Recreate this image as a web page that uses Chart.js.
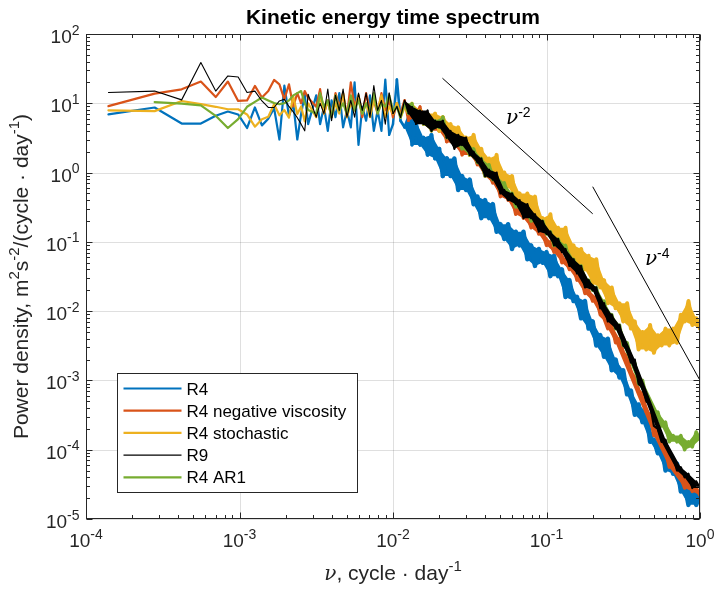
<!DOCTYPE html>
<html>
<head>
<meta charset="utf-8">
<script src="https://cdn.jsdelivr.net/npm/chart.js@4/dist/chart.umd.min.js"></script>
<style>
  html, body { margin: 0; padding: 0; background: #fff; }
</style>
</head>
<body>
<canvas id="spectrum" width="716" height="593"></canvas>
<script>
// frequency, cycle/day (first 20 are the raw spectral bins, then every ~1/40 decade)
const freq = [
  1.4e-4, 2.8e-4, 4.2e-4, 5.6e-4, 7.0e-4, 8.4e-4, 9.8e-4, 1.12e-3, 1.26e-3, 1.4e-3,
  1.54e-3, 1.68e-3, 1.82e-3, 1.96e-3, 2.1e-3, 2.24e-3, 2.38e-3, 2.52e-3, 2.66e-3, 2.8e-3,
  3.16e-3, 3.35e-3, 3.55e-3, 3.76e-3, 3.98e-3, 4.22e-3, 4.47e-3, 4.73e-3, 5.01e-3, 5.31e-3,
  5.62e-3, 5.96e-3, 6.31e-3, 6.68e-3, 7.08e-3, 7.50e-3, 7.94e-3, 8.41e-3, 8.91e-3, 9.44e-3,
  0.0100, 0.0106, 0.0112, 0.0119, 0.0126, 0.0133, 0.0141, 0.0150, 0.0158, 0.0168,
  0.0178, 0.0188, 0.0200, 0.0211, 0.0224, 0.0237, 0.0251, 0.0266, 0.0282, 0.0299,
  0.0316, 0.0335, 0.0355, 0.0376, 0.0398, 0.0422, 0.0447, 0.0473, 0.0501, 0.0531,
  0.0562, 0.0596, 0.0631, 0.0668, 0.0708, 0.0750, 0.0794, 0.0841, 0.0891, 0.0944,
  0.100, 0.106, 0.112, 0.119, 0.126, 0.133, 0.141, 0.150, 0.158, 0.168,
  0.178, 0.188, 0.200, 0.211, 0.224, 0.237, 0.251, 0.266, 0.282, 0.299,
  0.316, 0.335, 0.355, 0.376, 0.398, 0.422, 0.447, 0.473, 0.501, 0.531,
  0.562, 0.596, 0.631, 0.668, 0.708, 0.750, 0.794, 0.841, 0.891, 0.944,
  1.0
];

// power density, m^2 s^-2 / (cycle/day)
const r4 = [
  6.9, 8.7, 5.1, 5.1, 6.6, 7.6, 6.9, 4.4, 8.7, 4.8,
  6.0, 8.5, 3.0, 18, 6.6, 10, 3.0, 7.0, 13.5, 5.0,
  13, 5.0, 8.9, 4.0, 11, 6.3, 14, 4.5, 7.9, 4.5,
  20, 2.5, 8.9, 5.6, 13, 4.0, 7.9, 4.0, 22, 3.5,
  5.0, 22, 5.6, 4.5, 6.3, 2.5, 5.6, 2.5, 3.2, 1.8,
  3.5, 1.6, 2.2, 0.89, 1.6, 0.89, 1.6, 0.56, 0.89, 0.56,
  0.79, 0.35, 0.45, 0.22, 0.40, 0.22, 0.35, 0.14, 0.18, 0.11,
  0.18, 0.079, 0.14, 0.089, 0.14, 0.056, 0.089, 0.045, 0.079, 0.050,
  0.071, 0.032, 0.063, 0.032, 0.040, 0.016, 0.028, 0.014, 0.016, 0.0079,
  0.014, 0.0056, 0.0071, 0.0032, 0.0045, 0.0022, 0.0040, 0.0014, 0.0020, 0.0011,
  0.0014, 6.3e-4, 7.1e-4, 3.2e-4, 4.5e-4, 2.5e-4, 3.5e-4, 1.3e-4, 1.4e-4, 8.9e-5,
  1.3e-4, 5.0e-5, 7.9e-5, 4.5e-5, 6.3e-5, 2.5e-5, 3.2e-5, 1.6e-5, 2.8e-5, 1.6e-5,
  2.2e-5
];
const r4NegVisc = [
  9.1, 13.8, 15.9, 20.6, 12.3, 20.6, 10.8, 11.0, 17.8, 12.1,
  15, 21.7, 18.8, 11.4, 18.8, 9.0, 14, 10, 15, 12,
  8.9, 16, 7.1, 11, 6.3, 14, 8.9, 14, 6.3, 20,
  8.9, 13, 6.3, 14, 7.9, 11, 7.1, 14, 7.9, 11,
  6.3, 10, 7.1, 11, 5.6, 7.9, 6.3, 8.9, 5.0, 6.3,
  4.0, 5.6, 4.0, 5.6, 2.8, 3.2, 2.5, 3.5, 1.8, 2.5,
  1.8, 2.0, 1.3, 1.4, 0.89, 1.0, 0.71, 0.79, 0.45, 0.63,
  0.40, 0.45, 0.25, 0.32, 0.22, 0.25, 0.16, 0.20, 0.13, 0.14,
  0.089, 0.10, 0.071, 0.089, 0.050, 0.056, 0.040, 0.045, 0.028, 0.032,
  0.018, 0.020, 0.014, 0.016, 0.0089, 0.0079, 0.0056, 0.0063, 0.0035, 0.0040,
  0.0025, 0.0022, 0.0013, 0.0011, 7.1e-4, 6.3e-4, 3.5e-4, 3.2e-4, 1.6e-4, 1.8e-4,
  1.1e-4, 1.0e-4, 5.6e-5, 7.1e-5, 4.5e-5, 4.0e-5, 2.8e-5, 3.5e-5, 2.5e-5, 2.8e-5,
  2.2e-5
];
const r4Stochastic = [
  7.9, 7.7, 10.8, 9.7, 8.9, 8.2, 8.2, 6.9, 4.6, 5.9,
  6.4, 9.7, 6.7, 8.0, 6.2, 12.5, 7.0, 9.0, 5.5, 10,
  6.3, 13, 7.1, 11, 6.3, 10, 7.1, 14, 6.3, 10,
  7.9, 13, 7.1, 10, 6.3, 11, 7.9, 13, 6.3, 8.9,
  7.1, 10, 6.3, 8.9, 7.1, 10, 5.6, 7.9, 5.0, 7.1,
  5.6, 7.1, 4.0, 6.3, 4.5, 5.0, 2.8, 4.5, 2.5, 3.2,
  1.8, 3.5, 1.6, 2.2, 1.0, 1.6, 0.89, 1.8, 0.56, 1.0,
  0.63, 0.89, 0.40, 0.50, 0.25, 0.50, 0.28, 0.45, 0.18, 0.22,
  0.14, 0.25, 0.089, 0.16, 0.10, 0.16, 0.056, 0.089, 0.045, 0.079,
  0.040, 0.063, 0.025, 0.056, 0.022, 0.028, 0.013, 0.022, 0.011, 0.013,
  0.0071, 0.013, 0.0056, 0.0071, 0.0028, 0.0050, 0.0028, 0.0063, 0.0025, 0.0045,
  0.0032, 0.0056, 0.0032, 0.0056, 0.0035, 0.0089, 0.0071, 0.014, 0.0063, 0.0079,
  0.0056
];
const r9 = [
  14.3, 15.0, 11.2, 38.7, 15.0, 24.8, 24.0, 14.3, 15.0, 10.8,
  8.7, 8.7, 10.8, 11.4, 9.0, 7.5, 6.2, 5.0, 4.0, 13.5,
  6.3, 10, 7.1, 16, 5.6, 13, 7.9, 16, 6.3, 11,
  6.3, 14, 7.9, 14, 6.3, 18, 7.9, 11, 5.0, 14,
  7.1, 8.9, 6.3, 11, 7.1, 8.9, 5.0, 7.9, 5.0, 7.9,
  4.0, 5.6, 4.5, 5.6, 3.2, 4.0, 2.2, 3.5, 2.5, 3.2,
  1.8, 2.0, 1.4, 1.6, 0.89, 1.1, 0.79, 1.0, 0.50, 0.56,
  0.40, 0.50, 0.35, 0.40, 0.22, 0.35, 0.22, 0.25, 0.14, 0.20,
  0.13, 0.14, 0.089, 0.11, 0.071, 0.079, 0.045, 0.056, 0.035, 0.045,
  0.022, 0.028, 0.020, 0.022, 0.011, 0.013, 0.0071, 0.0089, 0.0056, 0.0063,
  0.0032, 0.0028, 0.0018, 0.0020, 8.9e-4, 7.9e-4, 5.0e-4, 4.5e-4, 2.2e-4, 2.0e-4,
  1.3e-4, 1.4e-4, 8.9e-5, 7.9e-5, 5.0e-5, 5.6e-5, 4.0e-5, 4.5e-5, 2.8e-5, 3.5e-5,
  2.8e-5
];
const r4Ar1 = [
  null, 10.4, 9.9, 9.3, 6.6, 4.4, 5.9, 8.9, 10.5, 12.1,
  11, 10.1, 9.7, 10, 11, 13, 14, 15, 10, 8.0,
  7.1, 14, 8.9, 11, 6.3, 13, 7.9, 10, 7.1, 13,
  7.9, 11, 7.1, 10, 7.9, 14, 7.1, 10, 8.9, 13,
  7.9, 8.9, 6.3, 10, 7.1, 10, 5.6, 7.1, 5.0, 7.1,
  4.0, 5.6, 4.5, 6.3, 3.2, 3.5, 2.5, 3.2, 2.2, 2.8,
  1.8, 2.2, 1.4, 1.6, 0.89, 1.3, 0.79, 0.89, 0.56, 0.71,
  0.45, 0.50, 0.32, 0.35, 0.25, 0.32, 0.20, 0.22, 0.18, 0.20,
  0.13, 0.14, 0.089, 0.11, 0.079, 0.089, 0.050, 0.056, 0.040, 0.045,
  0.025, 0.028, 0.020, 0.022, 0.013, 0.014, 0.0079, 0.0089, 0.0056, 0.0063,
  0.0032, 0.0035, 0.0020, 0.0018, 8.9e-4, 1.0e-3, 5.6e-4, 5.0e-4, 3.2e-4, 3.5e-4,
  2.2e-4, 2.5e-4, 1.3e-4, 1.6e-4, 1.3e-4, 1.6e-4, 1.0e-4, 1.3e-4, 1.1e-4, 1.8e-4,
  1.4e-4
];

// reference slopes
const slope2Freq = [0.021, 0.2];
const slope2Vals = [23, 0.254];
const slope4Freq = [0.2, 1];
const slope4Vals = [0.625, 0.001];
const noteFreq = [0.0545, 0.438];
const noteVals = [5.1, 0.046];
const noteExps = ["-2", "-4"];

const xTickExps = [-4, -3, -2, -1, 0];
const yTickExps = [2, 1, 0, -1, -2, -3, -4, -5];

// above this frequency the raw spectra are dense enough to read as a solid band
const BAND_START = 0.0115;

const SANS = '"Liberation Sans", Arial, Helvetica, sans-serif';
const SERIF = '"DejaVu Serif", "Liberation Serif", serif';
const AXIS = "#262626";
const GRID = "rgba(38,38,38,0.15)";
const TICK_FONT = `19px ${SANS}`;
const TICK_SUP = `14px ${SANS}`;
const LABEL_FONT = `21px ${SANS}`;
const LABEL_SUP = `15px ${SANS}`;
const NU_FONT = `italic 20px ${SERIF}`;

// parts: [text, font, raise]
function drawParts(ctx, parts, x, y, align) {
  let total = 0;
  parts.forEach(p => { ctx.font = p[1]; total += ctx.measureText(p[0]).width; });
  let cx = align === "center" ? x - total / 2 : align === "right" ? x - total : x;
  ctx.textAlign = "left";
  ctx.textBaseline = "alphabetic";
  parts.forEach(p => {
    ctx.font = p[1];
    ctx.fillText(p[0], cx, y - (p[2] || 0));
    cx += ctx.measureText(p[0]).width;
  });
}

const powParts = e => [["10", TICK_FONT], [String(e), TICK_SUP, 8.5]];

const matlabAxes = {
  id: "matlabAxes",
  beforeDatasetsDraw(chart) {
    const { ctx, chartArea: a, scales: { x, y } } = chart;
    ctx.save();
    ctx.strokeStyle = GRID;
    ctx.lineWidth = 1;
    ctx.beginPath();
    xTickExps.forEach(e => {
      const px = Math.round(x.getPixelForValue(10 ** e)) + 0.5;
      ctx.moveTo(px, a.top); ctx.lineTo(px, a.bottom);
    });
    yTickExps.forEach(e => {
      const py = Math.round(y.getPixelForValue(10 ** e)) + 0.5;
      ctx.moveTo(a.left, py); ctx.lineTo(a.right, py);
    });
    ctx.stroke();
    ctx.restore();
  },
  afterDatasetsDraw(chart) {
    const { ctx, chartArea: a, scales: { x, y } } = chart;
    const L = Math.round(a.left) + 0.5, R = Math.round(a.right) - 0.5;
    const T = Math.round(a.top) + 0.5, B = Math.round(a.bottom) - 0.5;
    ctx.save();

    // box + ticks
    ctx.strokeStyle = AXIS;
    ctx.lineWidth = 1;
    ctx.strokeRect(L, T, R - L, B - T);
    ctx.beginPath();
    const tickX = (v, len) => {
      const px = Math.round(x.getPixelForValue(v)) + 0.5;
      ctx.moveTo(px, B); ctx.lineTo(px, B - len);
      ctx.moveTo(px, T); ctx.lineTo(px, T + len);
    };
    const tickY = (v, len) => {
      const py = Math.round(y.getPixelForValue(v)) + 0.5;
      ctx.moveTo(L, py); ctx.lineTo(L + len, py);
      ctx.moveTo(R, py); ctx.lineTo(R - len, py);
    };
    xTickExps.forEach(e => {
      tickX(10 ** e, 6);
      if (e < 0) for (let m = 2; m < 10; m++) tickX(m * 10 ** e, 3.5);
    });
    yTickExps.forEach(e => {
      tickY(10 ** e, 6);
      if (e < 2) for (let m = 2; m < 10; m++) tickY(m * 10 ** e, 3.5);
    });
    ctx.stroke();

    // tick labels
    ctx.fillStyle = AXIS;
    xTickExps.forEach(e => drawParts(ctx, powParts(e), x.getPixelForValue(10 ** e), 547, "center"));
    yTickExps.forEach(e => drawParts(ctx, powParts(e), L - 7, y.getPixelForValue(10 ** e) + 9, "right"));

    // title + axis labels
    const midX = (a.left + a.right) / 2;
    ctx.fillStyle = "#000";
    drawParts(ctx, [["Kinetic energy time spectrum", `bold 21px ${SANS}`]], midX, 24, "center");
    ctx.fillStyle = AXIS;
    drawParts(ctx, [["\u03bd", NU_FONT], [", cycle \u00b7 day", LABEL_FONT], ["-1", LABEL_SUP, 9]], midX, 580, "center");
    ctx.save();
    ctx.translate(28, (a.top + a.bottom) / 2);
    ctx.rotate(-Math.PI / 2);
    drawParts(ctx, [
      ["Power density, m", LABEL_FONT], ["2", LABEL_SUP, 9], ["s", LABEL_FONT], ["-2", LABEL_SUP, 9],
      ["/(cycle \u00b7 day", LABEL_FONT], ["-1", LABEL_SUP, 9], [")", LABEL_FONT]
    ], 0, 0, "center");
    ctx.restore();

    // slope notes
    ctx.fillStyle = "#000";
    noteFreq.forEach((f, i) => {
      drawParts(ctx, [["\u03bd", NU_FONT], [noteExps[i], TICK_SUP, 7]],
        x.getPixelForValue(f), y.getPixelForValue(noteVals[i]), "left");
    });

    // legend
    const items = chart.data.datasets.filter(d => d.inLegend !== false);
    const box = { left: 117.5, top: 373.5, width: 240, height: 119 };
    ctx.fillStyle = "#fff";
    ctx.fillRect(box.left, box.top, box.width, box.height);
    ctx.strokeStyle = AXIS;
    ctx.lineWidth = 1;
    ctx.strokeRect(box.left, box.top, box.width, box.height);
    items.forEach((d, i) => {
      const cy = box.top + 15 + i * 22.2;
      ctx.strokeStyle = d.borderColor;
      ctx.lineWidth = d.borderWidth;
      ctx.beginPath();
      ctx.moveTo(box.left + 6, cy);
      ctx.lineTo(box.left + 64, cy);
      ctx.stroke();
      ctx.fillStyle = "#000";
      drawParts(ctx, [[d.label, `17px ${SANS}`]], box.left + 69, cy + 6, "left");
    });
    ctx.restore();
  }
};

function series(label, vals, color, width, bandWidth, order) {
  const widthAt = f => {
    const t = Math.min(1, Math.max(0, (Math.log10(f) + 2.05) / 0.4));
    return width + (bandWidth - width) * t;
  };
  return {
    label, order,
    data: freq.map((f, i) => ({ x: f, y: vals[i] })),
    borderColor: color,
    borderWidth: width,
    borderJoinStyle: "round",
    borderCapStyle: "round",
    segment: { borderWidth: c => widthAt(c.p0.parsed.x) },
    pointRadius: 0,
    tension: 0
  };
}

// solid fill from the local peaks down to the local troughs of a series, where it is dense
function band(vals, color, order) {
  const idx = freq.map((f, i) => i).filter(i => freq[i] >= BAND_START && vals[i] != null);
  const first = idx[0], last = idx[idx.length - 1];
  const cmp = (i, sign) => [vals[i - 1], vals[i + 1]]
    .every(v => v == null || sign * (vals[i] - v) >= 0);
  const pick = sign => idx
    .filter(i => i === first || i === last || cmp(i, sign))
    .map(i => ({ x: freq[i], y: vals[i] }));
  const common = { inLegend: false, order: order + 0.5, borderWidth: 0, pointRadius: 0, borderColor: "rgba(0,0,0,0)" };
  return [
    { ...common, label: "band hi", data: pick(1), backgroundColor: color, fill: "+1" },
    { ...common, label: "band lo", data: pick(-1), fill: false }
  ];
}

function refLine(fs, vs) {
  return {
    label: "slope",
    inLegend: false,
    order: 0,
    data: fs.map((f, i) => ({ x: f, y: vs[i] })),
    borderColor: "#000",
    borderWidth: 1,
    pointRadius: 0
  };
}

const datasets = [
  series("R4", r4, "#0072BD", 2.2, 4.5, 5),
  series("R4 negative viscosity", r4NegVisc, "#D95319", 2.2, 3.5, 4),
  series("R4 stochastic", r4Stochastic, "#EDB120", 2.2, 4, 3),
  series("R9", r9, "#000000", 1.1, 2.2, 1),
  series("R4 AR1", r4Ar1, "#77AC30", 2.2, 3.5, 2),
  ...band(r4, "#0072BD", 5),
  ...band(r4NegVisc, "#D95319", 4),
  ...band(r4Stochastic, "#EDB120", 3),
  ...band(r9, "#000000", 1),
  ...band(r4Ar1, "#77AC30", 2),
  refLine(slope2Freq, slope2Vals),
  refLine(slope4Freq, slope4Vals)
];

new Chart(document.getElementById("spectrum"), {
  type: "line",
  data: { datasets },
  options: {
    responsive: false,
    animation: false,
    devicePixelRatio: 1,
    events: [],
    layout: { padding: { left: 86, right: 16, top: 34, bottom: 74 } },
    plugins: {
      legend: { display: false },
      title: { display: false },
      tooltip: { enabled: false }
    },
    scales: {
      x: { type: "logarithmic", min: 1e-4, max: 1, display: false },
      y: { type: "logarithmic", min: 1e-5, max: 100, display: false }
    }
  },
  plugins: [matlabAxes]
});
</script>
</body>
</html>
